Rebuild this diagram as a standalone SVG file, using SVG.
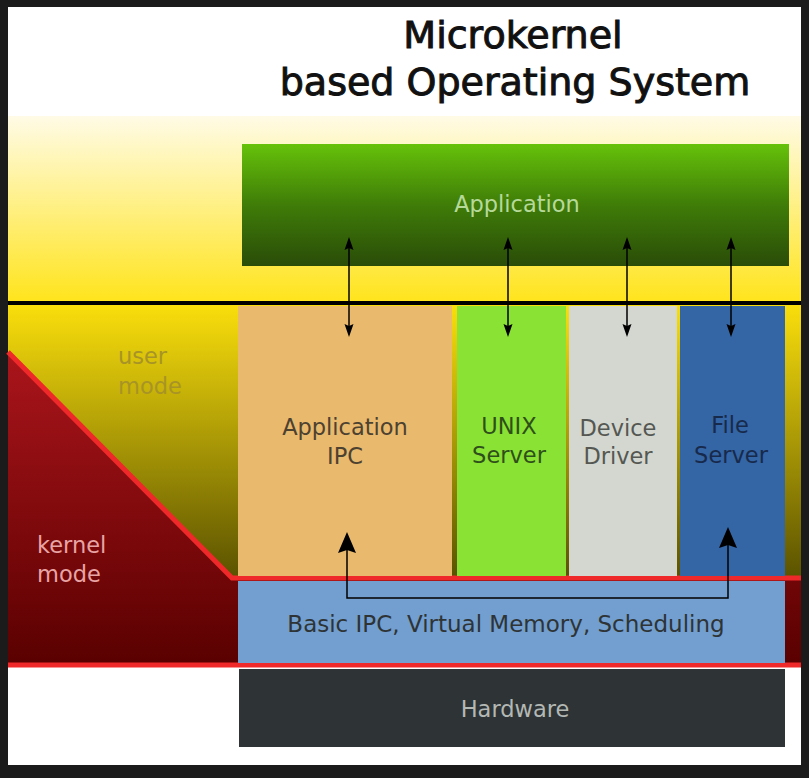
<svg xmlns="http://www.w3.org/2000/svg" width="809" height="778" viewBox="0 0 809 778">
<defs>
<linearGradient id="gTop" x1="0" y1="0" x2="0" y2="1">
<stop offset="0" stop-color="#fffbe6"/>
<stop offset="1" stop-color="#ffe41c"/>
</linearGradient>
<linearGradient id="gUser" x1="0" y1="0" x2="0" y2="1">
<stop offset="0" stop-color="#fadf0c"/>
<stop offset="1" stop-color="#5a5200"/>
</linearGradient>
<linearGradient id="gKernel" x1="0" y1="0" x2="0" y2="1">
<stop offset="0" stop-color="#aa151b"/>
<stop offset="1" stop-color="#5a0000"/>
</linearGradient>
<linearGradient id="gApp" x1="0" y1="0" x2="0" y2="1">
<stop offset="0" stop-color="#66c20a"/>
<stop offset="0.5" stop-color="#3f7c08"/>
<stop offset="1" stop-color="#2a4c08"/>
</linearGradient>
<path id="headUp" d="M0,0 L4.5,13 L0,11 L-4.5,13 z" fill="#000"/>
<path id="headDown" d="M0,0 L4.5,-13 L0,-11 L-4.5,-13 z" fill="#000"/>
<path id="headBig" d="M0,0 L9,21 L0,18 L-9,21 z" fill="#000"/>
<style>
.t{font-family:"DejaVu Sans","Liberation Sans",sans-serif;font-size:22.5px;text-anchor:middle}
.title{font-family:"DejaVu Sans","Liberation Sans",sans-serif;font-size:38px;text-anchor:middle;fill:#111;stroke:#111;stroke-width:1}
.lbl{font-family:"DejaVu Sans","Liberation Sans",sans-serif;font-size:22.5px}
.conn{stroke:#000;fill:none;stroke-width:1.5}
</style>
</defs>
<rect x="0" y="0" width="809" height="778" fill="#1a1b1a"/>
<rect x="8" y="7" width="793" height="758" fill="#ffffff"/>
<g id="title">
<text class="title" x="513" y="48">Microkernel</text>
<text class="title" x="515" y="95">based Operating System</text>
</g>
<g id="background">
<rect x="8" y="116" width="793" height="186" fill="url(#gTop)"/>
<rect x="8" y="304" width="793" height="274" fill="url(#gUser)"/>
<polygon points="8,352 232,578 801,578 801,665 8,665" fill="url(#gKernel)"/>
<polyline points="8,352 232,578 801,578" fill="none" stroke="#ef2929" stroke-width="5"/>
<line x1="8" y1="665" x2="801" y2="665" stroke="#ef2929" stroke-width="5"/>
<line x1="8" y1="303" x2="801" y2="303" stroke="#000" stroke-width="4"/>
</g>
<g id="user-mode">
<text class="lbl" x="118" y="364" fill="#a89426">user</text>
<text class="lbl" x="118" y="394" fill="#a89426">mode</text>
</g>
<g id="kernel-mode">
<text class="lbl" x="37" y="553" fill="#e8a4a4">kernel</text>
<text class="lbl" x="37" y="582" fill="#e8a4a4">mode</text>
</g>
<g id="application">
<rect x="242" y="144" width="547" height="122" fill="url(#gApp)"/>
<text class="t" x="517" y="212" fill="#b6d99a">Application</text>
</g>
<g id="application-ipc">
<rect x="238" y="306" width="214" height="270" fill="#e9b96e"/>
<text class="t" x="345" y="435" fill="#4d4130">Application</text>
<text class="t" x="345" y="464" fill="#4d4130">IPC</text>
</g>
<g id="unix-server">
<rect x="457" y="306" width="109" height="270" fill="#8ae234"/>
<text class="t" x="509" y="434" fill="#2f4f1a">UNIX</text>
<text class="t" x="509" y="463" fill="#2f4f1a">Server</text>
</g>
<g id="device-driver">
<rect x="569" y="306" width="108" height="270" fill="#d3d7cf"/>
<text class="t" x="618" y="436" fill="#555753">Device</text>
<text class="t" x="618" y="464" fill="#555753">Driver</text>
</g>
<g id="file-server">
<rect x="680" y="306" width="105" height="270" fill="#3465a4"/>
<text class="t" x="730" y="433" fill="#172a4c">File</text>
<text class="t" x="731" y="463" fill="#172a4c">Server</text>
</g>
<g id="kernel">
<rect x="238" y="581" width="547" height="82" fill="#729fcf"/>
<text class="t" x="506" y="632" fill="#2e3436" style="font-size:23px">Basic IPC, Virtual Memory, Scheduling</text>
</g>
<g id="hardware">
<rect x="239" y="669" width="546" height="78" fill="#2e3436"/>
<text class="t" x="515" y="717" fill="#b4b8b4">Hardware</text>
</g>
<g id="connectors">
<line class="conn" x1="349" y1="246" x2="349" y2="329"/>
<line class="conn" x1="508" y1="246" x2="508" y2="329"/>
<line class="conn" x1="627" y1="246" x2="627" y2="329"/>
<line class="conn" x1="731" y1="246" x2="731" y2="329"/>
<use href="#headUp" x="349" y="237"/>
<use href="#headUp" x="508" y="237"/>
<use href="#headUp" x="627" y="237"/>
<use href="#headUp" x="731" y="237"/>
<use href="#headDown" x="349" y="337"/>
<use href="#headDown" x="508" y="337"/>
<use href="#headDown" x="627" y="337"/>
<use href="#headDown" x="731" y="337"/>
<polyline class="conn" points="347,550 347,598 728,598 728,545"/>
<use href="#headBig" x="347" y="532"/>
<use href="#headBig" x="728" y="527"/>
</g>
</svg>
